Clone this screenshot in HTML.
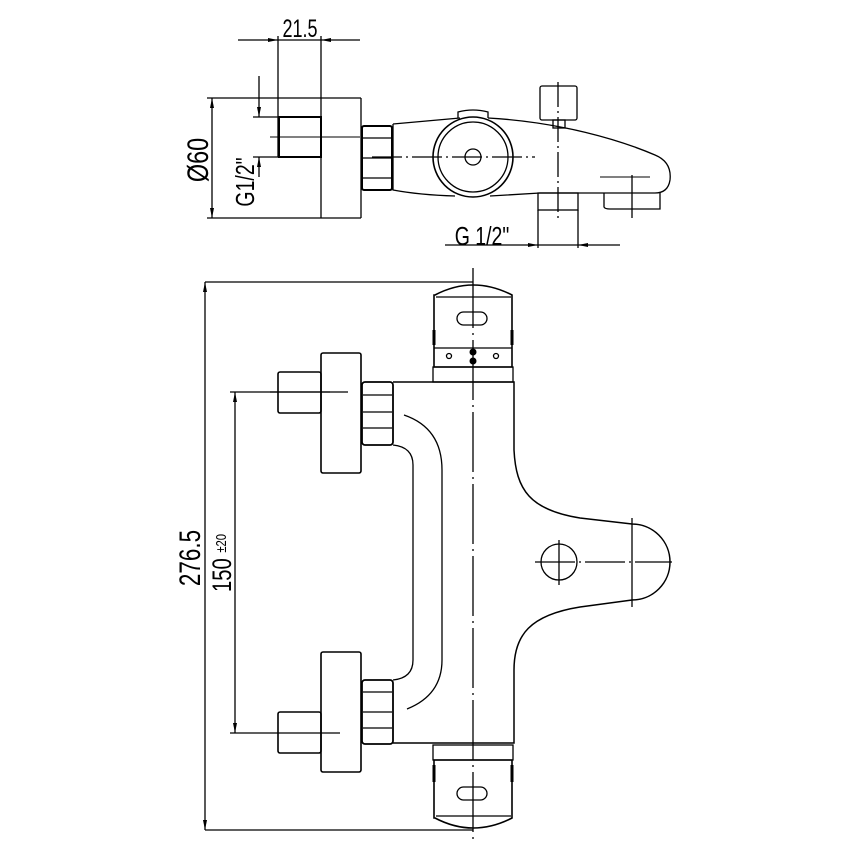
<!DOCTYPE html>
<html><head><meta charset="utf-8"><style>
html,body{margin:0;padding:0;background:#fff}
svg{display:block}
text{font-family:"Liberation Sans",sans-serif;fill:#000}
</style></head><body>
<svg width="854" height="854" viewBox="0 0 854 854" xmlns="http://www.w3.org/2000/svg">
<defs>
<marker id="a" viewBox="0 0 10 4" refX="10" refY="2" markerWidth="10" markerHeight="4" orient="auto-start-reverse" markerUnits="userSpaceOnUse"><path d="M0,0 L10,2 L0,4 Z" fill="#000"/></marker>
</defs>
<g fill="none" stroke="#000" stroke-width="1.3">
<!-- TOP VIEW -->
<line x1="238" y1="40" x2="278" y2="40" marker-end="url(#a)"/>
<line x1="360" y1="40" x2="321" y2="40" marker-end="url(#a)"/>
<line x1="278" y1="40" x2="321" y2="40"/>
<line x1="278" y1="36" x2="278" y2="157"/>
<line x1="321" y1="36" x2="321" y2="218"/>
<line x1="207" y1="98" x2="361" y2="98"/>
<line x1="207" y1="218" x2="361" y2="218"/>
<line x1="361" y1="98" x2="361" y2="218"/>
<line x1="212" y1="158" x2="212" y2="98" marker-end="url(#a)"/>
<line x1="212" y1="158" x2="212" y2="218" marker-end="url(#a)"/>
<line x1="259" y1="76" x2="259" y2="117" marker-end="url(#a)"/>
<line x1="259" y1="177" x2="259" y2="157" marker-end="url(#a)"/>
<line x1="253" y1="117" x2="321" y2="117"/>
<line x1="253" y1="157" x2="321" y2="157"/>
<rect x="279" y="117" width="42" height="40" stroke-width="2"/>
<line x1="270" y1="137" x2="360" y2="137" stroke-width="1"/>
<rect x="362" y="126" width="30" height="64" rx="2" stroke-width="2"/>
<line x1="362" y1="138" x2="392" y2="138"/><line x1="362" y1="158" x2="392" y2="158"/><line x1="362" y1="178" x2="392" y2="178"/>
<path d="M393,124 L393,190 Q420,195 455,196 M393,124 L460,118 M488,118 C560,122 620,140 655,155 Q672,162 670,180 Q668,193 655,193 L540,193 M490,196 L540,193"/>
<path d="M458,118 L458,112 Q473,108 488,112 L488,118"/>
<circle cx="473" cy="157" r="40" stroke-width="1.6"/>
<circle cx="473" cy="157" r="35"/>
<circle cx="473" cy="157" r="8"/>
<line x1="372" y1="157" x2="535" y2="157" stroke-dasharray="30,4,2,4"/>
<rect x="540" y="86" width="37" height="34" rx="2"/>
<rect x="553" y="120" width="12" height="8"/>
<rect x="538" y="193" width="40" height="17"/>
<line x1="538" y1="210" x2="538" y2="248"/><line x1="578" y1="210" x2="578" y2="248"/>
<path d="M604,193 L604,207 Q605,209 610,209 L660,209 L660,193"/>
<line x1="558" y1="82" x2="558" y2="220" stroke-dasharray="25,4,2,4"/>
<line x1="632" y1="175" x2="632" y2="218"/>
<line x1="600" y1="177" x2="650" y2="177" stroke-width="1"/>
<line x1="445" y1="245" x2="538" y2="245" marker-end="url(#a)"/>
<line x1="620" y1="245" x2="578" y2="245" marker-end="url(#a)"/>
<line x1="538" y1="245" x2="578" y2="245"/>

<!-- FRONT VIEW dims -->
<line x1="205" y1="282" x2="473" y2="282"/>
<line x1="205" y1="830" x2="473" y2="830"/>
<line x1="205" y1="290" x2="205" y2="282" marker-end="url(#a)"/>
<line x1="205" y1="290" x2="205" y2="830" marker-end="url(#a)"/>
<line x1="230" y1="392" x2="330" y2="392"/>
<line x1="230" y1="733" x2="340" y2="733"/>
<line x1="235" y1="560" x2="235" y2="392" marker-end="url(#a)"/>
<line x1="235" y1="560" x2="235" y2="733" marker-end="url(#a)"/>

<!-- centerline -->
<line x1="473" y1="268" x2="473" y2="840" stroke-dasharray="60,5,2,5"/>

<!-- top knob -->
<path d="M435,295 Q473,275 512,295 L512,367 L434,367 L434,295 Z" stroke-width="1.6"/>
<line x1="436" y1="297" x2="511" y2="297"/>
<rect x="457" y="312" width="30" height="13" rx="6.5"/>
<line x1="434" y1="348" x2="512" y2="348"/>
<rect x="433" y="367" width="80" height="15"/>
<circle cx="449" cy="356" r="2.5"/><circle cx="496" cy="356" r="2.5"/>
<line x1="434" y1="330" x2="434" y2="345" stroke-width="3"/><line x1="512" y1="330" x2="512" y2="345" stroke-width="3"/>
<!-- bottom knob -->
<path d="M435,818 Q473,838 512,818 L512,760 L434,760 L434,818 Z" stroke-width="1.6"/>
<line x1="436" y1="816" x2="511" y2="816"/>
<rect x="457" y="787" width="30" height="13" rx="6.5"/>
<rect x="433" y="745" width="80" height="15"/>
<line x1="434" y1="765" x2="434" y2="782" stroke-width="3"/><line x1="512" y1="765" x2="512" y2="782" stroke-width="3"/>

<!-- body -->
<path d="M393,382 L514,382 L514,450 C516,490 530,510 580,518 L632,524 A38,38 0 0 1 632,600 L580,607 C530,615 514,635 514,670 L514,743 L393,743" stroke-width="1.5"/>
<!-- pipe -->
<path d="M393,445 Q413,447 413,465 L413,660 Q413,678 393,680"/>
<path d="M404,415 Q442,428 442,470 L442,660 Q442,695 407,709"/>
<!-- right blob -->
<line x1="632" y1="518" x2="632" y2="607"/>
<circle cx="559" cy="562" r="18"/>
<line x1="535" y1="562" x2="672" y2="562" stroke-dasharray="40,4,2,4"/>
<line x1="559" y1="540" x2="559" y2="585"/>

<!-- upper inlet -->
<rect x="321" y="353" width="40" height="120" rx="2" stroke-width="1.6"/>
<rect x="278" y="372" width="43" height="41" rx="2" stroke-width="1.6"/>
<rect x="362" y="382" width="31" height="63" rx="3" stroke-width="1.8"/>
<line x1="363" y1="395" x2="392" y2="395"/><line x1="363" y1="412" x2="392" y2="412"/><line x1="363" y1="428" x2="392" y2="428"/>
<line x1="270" y1="392" x2="348" y2="392"/>
<!-- lower inlet -->
<rect x="321" y="652" width="40" height="120" rx="2" stroke-width="1.6"/>
<rect x="278" y="712" width="43" height="41" rx="2" stroke-width="1.6"/>
<rect x="362" y="680" width="31" height="64" rx="3" stroke-width="1.8"/>
<line x1="363" y1="692" x2="392" y2="692"/><line x1="363" y1="712" x2="392" y2="712"/><line x1="363" y1="728" x2="392" y2="728"/>
</g>
<g fill="#000">
<circle cx="473" cy="352" r="3.5"/><circle cx="473" cy="361" r="3.5"/>
</g>
<text font-size="25" text-anchor="middle" transform="translate(300 37) scale(0.72 1)">21.5</text>
<text transform="translate(208 160) rotate(-90) scale(0.78 1)" font-size="30" text-anchor="middle">Ø60</text>
<text transform="translate(254 182) rotate(-90) scale(0.75 1)" font-size="26" text-anchor="middle">G1/2"</text>
<text transform="translate(482 245) scale(0.75 1)" font-size="26" text-anchor="middle">G  1/2"</text>
<text transform="translate(200 558) rotate(-90) scale(0.75 1)" font-size="30" text-anchor="middle">276.5</text>
<text transform="translate(231 563) rotate(-90) scale(0.75 1)" font-size="27" text-anchor="middle">150 <tspan font-size="15" dy="-5">±20</tspan></text>
</svg>
</body></html>
